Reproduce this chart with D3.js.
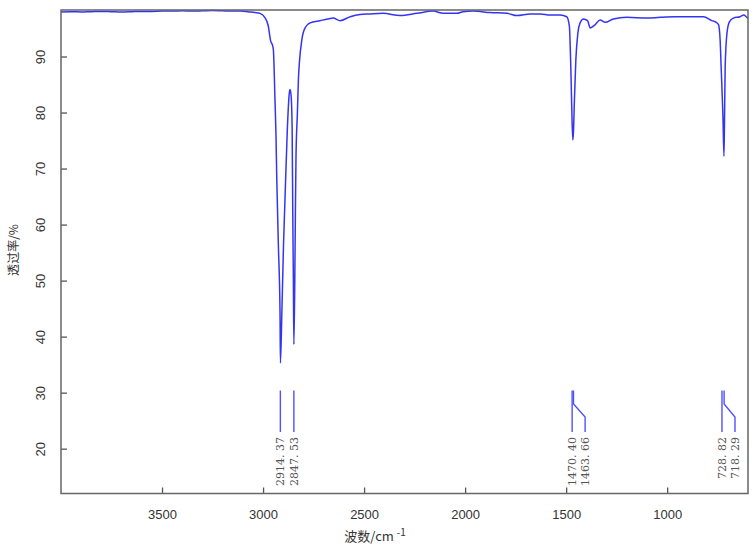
<!DOCTYPE html>
<html><head><meta charset="utf-8">
<script src="https://cdn.jsdelivr.net/npm/d3@7"></script>
<style>body{margin:0;background:#fff}</style>
</head><body>
<svg id="c" width="755" height="554"></svg>
<script>
const wavenumbers = [4000,3950,3900,3850,3800,3750,3700,3650,3600,3550,3500,3450,3400,3350,3300,3250,3200,3150,3114,3064,3040,3015,2990,2974,2962,2954,2949,2941,2936,2932,2924,2916,2914,2907,2899,2891,2880,2870,2866,2861,2856,2853,2850,2847.5,2843,2840,2837,2830,2825,2820,2808,2796,2767,2718,2680,2653,2619,2569,2520,2470,2406,2322,2238,2158,2109,2040,2010,1960,1876,1792,1743,1678,1629,1579,1530,1497,1484,1477,1472,1467,1464,1459,1452,1442,1431,1414,1394,1381,1356,1332,1307,1266,1200,1101,1035,960,886,820,779,762,746,738,733,729,724,719,716,713,704,692,672,639,621,609,602,600];
const transmittance = [97.95,98.0,97.95,98.0,98.05,98.0,97.95,98.0,98.05,98.05,98.1,98.1,98.15,98.1,98.15,98.2,98.15,98.1,98.1,97.95,97.85,97.7,96.9,95.4,92.7,92.1,91.2,82.3,76,68,56.1,44.2,35.3,44.2,56.1,65,76.9,83.5,84.1,82.9,76.9,62.1,50.2,38.6,50,62,72,80,86,89,93,94.8,96,96.4,96.7,96.85,96.4,97.1,97.5,97.6,97.7,97.3,97.7,98.1,97.7,97.7,98.0,98.1,97.85,97.7,97.3,97.6,97.6,97.4,97.4,97.1,95.4,88.2,80.5,75.1,76.4,82.3,89.4,94.2,96,96.7,96.4,95.1,95.7,96.5,96.1,96.7,97.0,96.85,97.0,97.1,97.1,97.1,96.4,96.2,95.7,93,88.2,84.4,79.3,72.2,79.3,88.2,94.2,96.2,96.85,97.1,97.4,97.1,96.85,96.8];
const peakWavenumbers = [2914.37, 2847.53, 1470.40, 1463.66, 728.82, 718.29];
const peakLabels = ["2914. 37", "2847. 53", "1470. 40", "1463. 66", "728. 82", "718. 29"];
const xTicks = [3500, 3000, 2500, 2000, 1500, 1000];
const yTicks = [20, 30, 40, 50, 60, 70, 80, 90];

const svg = d3.select("#c");
const L = 61, R = 748, T = 10, B = 493.5;
const x = d3.scaleLinear().domain([4000, 600]).range([L, R]);
const y = d3.scaleLinear().domain([12, 98.3]).range([B, T]);

// axes
const xa = svg.append("g").attr("transform", `translate(0,${B})`)
  .call(d3.axisBottom(x).tickValues(xTicks).tickSize(-6).tickFormat(d3.format("d")));
xa.select(".domain").remove();
xa.selectAll("line").attr("stroke", "#555").attr("stroke-width", 1.3);
xa.selectAll("text").attr("y", 25.5).attr("dy", 0)
  .attr("font-family", "'Liberation Sans', Arial, sans-serif").attr("font-size", 13).attr("fill", "#333");

const ya = svg.append("g").attr("transform", `translate(${L},0)`)
  .call(d3.axisLeft(y).tickValues(yTicks).tickSize(-6).tickFormat(d3.format("d")));
ya.select(".domain").remove();
ya.selectAll("line").attr("stroke", "#555").attr("stroke-width", 1.3);
ya.selectAll("text").attr("x", 0).attr("dy", 0).attr("y", 0)
  .attr("text-anchor", "middle")
  .attr("transform", "translate(-16,0) rotate(-90)")
  .attr("font-family", "'Liberation Sans', Arial, sans-serif").attr("font-size", 13).attr("fill", "#333");

// spectrum
const data = wavenumbers.map((w, i) => [w, transmittance[i]]);
svg.append("path").datum(data)
  .attr("fill", "none").attr("stroke", "#3535f0").attr("stroke-width", 1.5)
  .attr("d", d3.line().x(d => x(d[0])).y(d => y(d[1])).curve(d3.curveMonotoneX));

// frame
svg.append("rect").attr("x", L).attr("y", T).attr("width", R - L).attr("height", B - T)
  .attr("fill", "none").attr("stroke", "#666").attr("stroke-width", 1.5);

// peak annotations
const yTop = 390.5, yBend1 = 404, yBend2 = 417, yBot = 432;
let prevLabelX = -100;
peakWavenumbers.forEach((w, i) => {
  const px = x(w);
  let lx = px;
  if (lx - prevLabelX < 10) lx = prevLabelX + 13;
  prevLabelX = lx;
  const pts = lx === px
    ? [[px, yTop], [px, yBot]]
    : [[px, yTop], [px, yBend1], [lx, yBend2], [lx, yBot]];
  svg.append("path").attr("d", d3.line()(pts))
    .attr("fill", "none").attr("stroke", "#5050ff").attr("stroke-width", 1.4);
  svg.append("text").text(peakLabels[i])
    .attr("transform", `translate(${lx + 4},437) rotate(-90)`)
    .attr("text-anchor", "end")
    .attr("font-family", "'DejaVu Serif', 'Liberation Serif', serif")
    .attr("font-size", 11).attr("fill", "#555");
});

// axis titles
svg.append("text").attr("transform", "translate(18,250) rotate(-90)")
  .attr("text-anchor", "middle")
  .attr("font-family", "'Noto Sans CJK SC', sans-serif").attr("font-size", 12).attr("fill", "#333")
  .text("透过率/%");
const xt = svg.append("text").attr("x", 375).attr("y", 541).attr("text-anchor", "middle")
  .attr("font-family", "'Noto Sans CJK SC', sans-serif").attr("font-size", 13).attr("fill", "#333");
xt.append("tspan").text("波数/cm ");
xt.append("tspan").attr("dy", -5).attr("font-size", 10).text("-1");
</script>
</body></html>
